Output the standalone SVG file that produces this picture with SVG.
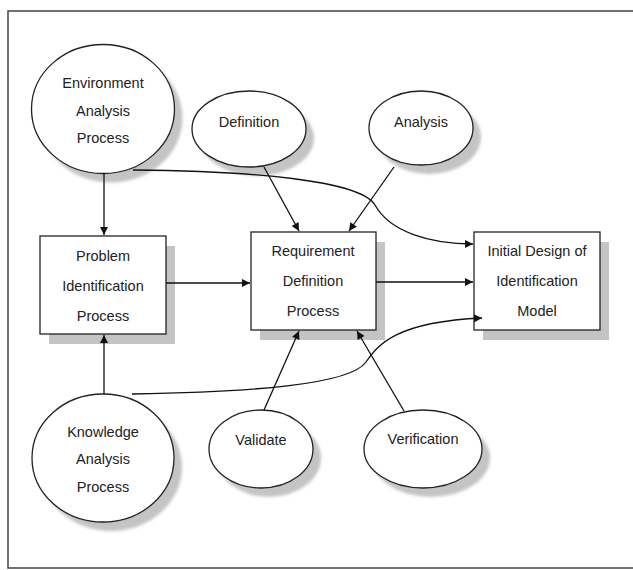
<svg xmlns="http://www.w3.org/2000/svg" width="633" height="570" viewBox="0 0 633 570">
<style>
.node{fill:#fff;stroke:#222;stroke-width:1.3}
.shadow{fill:#c4c4c4}
.lbl{font-family:"Liberation Sans",Arial,sans-serif;font-size:14.5px;fill:#222;text-anchor:middle}
.conn{fill:none;stroke:#111;stroke-width:1.3}
</style>
<defs>
<marker id="arr" viewBox="0 0 10 10" refX="10" refY="5" markerWidth="9" markerHeight="8" markerUnits="userSpaceOnUse" orient="auto">
<path d="M0,0 L10,5 L0,10 z" fill="#111"/>
</marker>
<filter id="blur" x="-20%" y="-20%" width="140%" height="140%"><feGaussianBlur stdDeviation="1.5"/></filter>
</defs>
<rect x="0" y="0" width="633" height="570" fill="#fff"/>
<rect x="8" y="11" width="640" height="557" fill="none" stroke="#444" stroke-width="1.5"/>

<g id="env">
<ellipse class="shadow" filter="url(#blur)" cx="111" cy="118" rx="71.5" ry="64.5"/>
<ellipse class="node" cx="103" cy="109" rx="71.5" ry="64.5"/>
<text class="lbl" x="103" y="88">Environment</text>
<text class="lbl" x="103" y="116">Analysis</text>
<text class="lbl" x="103" y="143">Process</text>
</g>
<g id="definition">
<ellipse class="shadow" filter="url(#blur)" cx="257" cy="138" rx="57" ry="38"/>
<ellipse class="node" cx="249" cy="129" rx="57" ry="38"/>
<text class="lbl" x="249" y="127">Definition</text>
</g>
<g id="analysis">
<ellipse class="shadow" filter="url(#blur)" cx="429" cy="137" rx="52" ry="37"/>
<ellipse class="node" cx="421" cy="128" rx="52" ry="37"/>
<text class="lbl" x="421" y="127">Analysis</text>
</g>
<g id="problem">
<rect class="shadow" x="49" y="246" width="126" height="98"/>
<rect class="node" x="40" y="236" width="126" height="98"/>
<text class="lbl" x="103" y="261">Problem</text>
<text class="lbl" x="103" y="291">Identification</text>
<text class="lbl" x="103" y="321">Process</text>
</g>
<g id="requirement">
<rect class="shadow" x="260" y="242" width="125" height="98"/>
<rect class="node" x="251" y="232" width="125" height="98"/>
<text class="lbl" x="313" y="256">Requirement</text>
<text class="lbl" x="313" y="286">Definition</text>
<text class="lbl" x="313" y="316">Process</text>
</g>
<g id="initial">
<rect class="shadow" x="483" y="242" width="126" height="98"/>
<rect class="node" x="474" y="232" width="126" height="98"/>
<text class="lbl" x="537" y="256">Initial Design of</text>
<text class="lbl" x="537" y="286">Identification</text>
<text class="lbl" x="537" y="316">Model</text>
</g>
<g id="knowledge">
<ellipse class="shadow" filter="url(#blur)" cx="111" cy="467" rx="71" ry="64"/>
<ellipse class="node" cx="103" cy="458" rx="71" ry="64"/>
<text class="lbl" x="103" y="437">Knowledge</text>
<text class="lbl" x="103" y="464">Analysis</text>
<text class="lbl" x="103" y="492">Process</text>
</g>
<g id="validate">
<ellipse class="shadow" filter="url(#blur)" cx="269" cy="458" rx="52" ry="39"/>
<ellipse class="node" cx="261" cy="449" rx="52" ry="39"/>
<text class="lbl" x="261" y="445">Validate</text>
</g>
<g id="verification">
<ellipse class="shadow" filter="url(#blur)" cx="431" cy="458" rx="59" ry="39"/>
<ellipse class="node" cx="423" cy="449" rx="59" ry="39"/>
<text class="lbl" x="423" y="444">Verification</text>
</g>

<g id="connectors">
<line class="conn" x1="104" y1="173" x2="104" y2="235" marker-end="url(#arr)"/>
<line class="conn" x1="104" y1="394" x2="104" y2="335" marker-end="url(#arr)"/>
<line class="conn" x1="166" y1="283" x2="250" y2="283" marker-end="url(#arr)"/>
<line class="conn" x1="376" y1="282" x2="473" y2="282" marker-end="url(#arr)"/>
<line class="conn" x1="264" y1="167" x2="299" y2="231" marker-end="url(#arr)"/>
<line class="conn" x1="394" y1="167" x2="349" y2="231" marker-end="url(#arr)"/>
<line class="conn" x1="264" y1="410" x2="299" y2="331" marker-end="url(#arr)"/>
<line class="conn" x1="404" y1="411" x2="357" y2="331" marker-end="url(#arr)"/>
<path class="conn" d="M133,170 C250,171 360,180 375,205 C390,232 430,244 473,244" marker-end="url(#arr)"/>
<path class="conn" d="M132,394 C250,392 350,385 366,362 C378,345 395,322 482,318" marker-end="url(#arr)"/>
</g>
</svg>
